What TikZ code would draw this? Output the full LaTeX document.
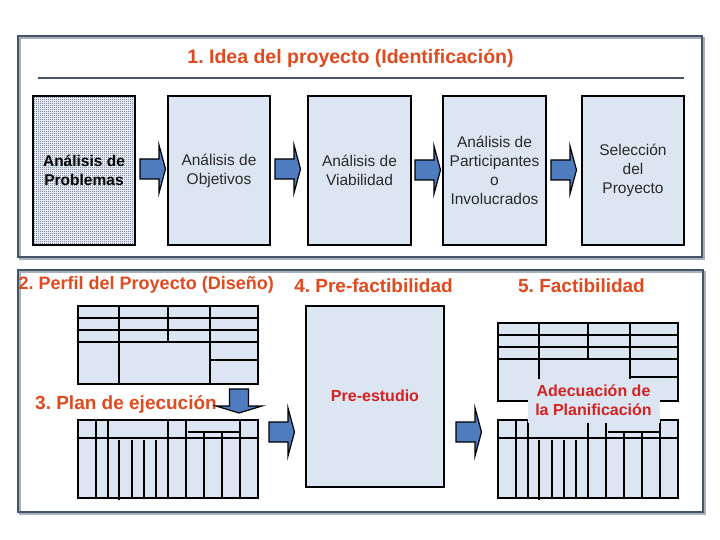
\documentclass[tikz,border=0pt]{standalone}
\usepackage{fontspec}
\setmainfont{Liberation Sans}
\usetikzlibrary{patterns}
\frenchspacing
\definecolor{panelc}{HTML}{44546A}
\definecolor{shadowc}{HTML}{A8B0BA}
\definecolor{boxfill}{HTML}{DCE6F2}
\definecolor{probdot}{HTML}{3E5270}
\definecolor{titlec}{HTML}{DF4A1E}
\definecolor{redc}{HTML}{D42222}
\definecolor{arrowc}{HTML}{4F7BBF}
\definecolor{txtc}{HTML}{2A2A2A}
\pgfdeclarepatternformonly{checkerdots}{\pgfpointorigin}{\pgfqpoint{2pt}{2pt}}{\pgfqpoint{2pt}{2pt}}{%
  \pgfpathrectangle{\pgfpointorigin}{\pgfqpoint{1pt}{1pt}}%
  \pgfpathrectangle{\pgfqpoint{1pt}{1pt}}{\pgfqpoint{1pt}{1pt}}%
  \pgfusepath{fill}}
\tikzset{
  panel/.style={draw=panelc, line width=2pt},
  panelshadow/.style={draw=shadowc, line width=1.5pt},
  stagebox/.style={draw=black, line width=1.5pt, fill=boxfill, minimum width=102pt, minimum height=149pt, inner sep=0pt, align=center, text=txtc, font=\fontsize{15.5}{19}\selectfont},
  heading/.style={inner sep=0pt, text=titlec, font=\bfseries\fontsize{19}{22}\selectfont},
  tline/.style={draw=black, line width=2pt},
  arrowfill/.style={draw=black, line width=1.2pt, fill=arrowc, line join=miter},
  rarrow/.pic={\draw[arrowfill] (0,-10) -- (19,-10) -- (19,-24) -- (25.5,0) -- (19,24) -- (19,10) -- (0,10) -- cycle;},
  darrow/.pic={\draw[arrowfill] (-9.5,0) -- (9.5,0) -- (9.5,17) -- (23,17) -- (0,24) -- (-23,17) -- (-9.5,17) -- cycle;},
  tableA/.pic={
    \draw[tline, fill=boxfill] (0,0) rectangle (180,78);
    \draw[tline] (41,0) -- (41,78) (90,0) -- (90,36) (132,0) -- (132,78)
      (0,12) -- (180,12) (0,24) -- (180,24) (0,36) -- (180,36) (132,54) -- (180,54);},
  tableB/.pic={
    \draw[tline, fill=boxfill] (0,0) rectangle (180,78);
    \draw[tline] (0,18) -- (180,18) (110,12) -- (162,12)
      (18,0) -- (18,78) (30,0) -- (30,78) (90,0) -- (90,78) (108,0) -- (108,78) (162,0) -- (162,78)
      (41,20) -- (41,80) (54,20) -- (54,78) (66,20) -- (66,78) (78,20) -- (78,78)
      (126,12) -- (126,78) (144,12) -- (144,78);}
}
\begin{document}
\begin{tikzpicture}[x=1pt,y=-1pt]
\useasboundingbox[fill=white] (0,0) rectangle (720,540);
% panels
\draw[panelshadow] (20,38) rectangle (704,259);
\draw[panel] (18,36) rectangle (702,257);
\draw[panelshadow] (20,272) rectangle (705,514);
\draw[panel] (18,270) rectangle (703,512);
% title
\node[heading, font=\bfseries\fontsize{19.5}{23}\selectfont] (title) at (350.5,58) {1. Idea del proyecto (Identificación)};
\draw[draw=panelc, line width=2pt] (38,78) -- (684,78);
% stage boxes
\fill[white] (33,96) rectangle (135,245);
\node[stagebox, fill=none, pattern=checkerdots, pattern color=probdot, text=black, font=\bfseries\fontsize{15.5}{19}\selectfont] (b1) at (84,170.5) {Análisis de\\Problemas};
\node[stagebox] (b2) at (219,170.5) {Análisis de\\Objetivos};
\node[stagebox, minimum width=103pt] (b3) at (359.5,170.5) {Análisis de\\Viabilidad};
\node[stagebox, minimum width=103pt] (b4) at (494.5,170.5) {Análisis de\\Participantes\\o\\Involucrados};
\node[stagebox] (b5) at (633,170.5) {Selección\\del\\Proyecto};
\pic at (140,169) {rarrow};
\pic at (275,169) {rarrow};
\pic at (415,170) {rarrow};
\pic at (551,170) {rarrow};
% lower headings
\node[heading, font=\bfseries\fontsize{18}{21}\selectfont, anchor=west] (h2) at (18.5,285) {2. Perfil del Proyecto (Diseño)};
\node[heading] (h4) at (373.5,286) {4. Pre-factibilidad};
\node[heading] (h5) at (581.5,286) {5. Factibilidad};
\node[heading] (h3) at (126,405) {3. Plan de ejecución};
% tables
\pic at (78,306) {tableA};
\pic at (78,420) {tableB};
\pic at (239,389) {darrow};
\pic at (269,432) {rarrow};
\node[draw=black, line width=2pt, fill=boxfill, minimum width=138pt, minimum height=181pt, inner sep=0pt] (pre) at (375,396.5) {};
\node[text=redc, font=\bfseries\fontsize{16}{19}\selectfont] (pretxt) at (375,396) {Pre-estudio};
\pic at (456,432) {rarrow};
\pic at (498,323) {tableA};
\pic at (498,420) {tableB};
\node[fill=boxfill, minimum width=132pt, minimum height=44pt, inner sep=0pt, align=center, text=redc, font=\bfseries\fontsize{16}{19}\selectfont] (adec) at (593.5,400.5) {Adecuación de\\la Planificación};
\end{tikzpicture}
\end{document}
